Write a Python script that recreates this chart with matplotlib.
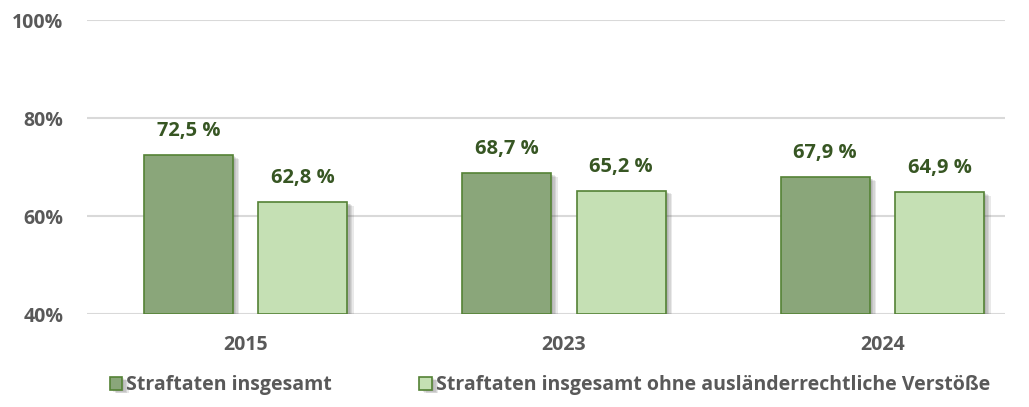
import matplotlib.pyplot as plt
import matplotlib.patheffects as pe
import numpy as np

years = ["2015", "2023", "2024"]
insgesamt = [72.5, 68.7, 67.9]
ohne_auslaender = [62.8, 65.2, 64.9]
series_names = ["Straftaten insgesamt",
                "Straftaten insgesamt ohne ausländerrechtliche Verstöße"]
yticks = [40, 60, 80, 100]

plt.rcParams['font.family'] = ['Open Sans', 'DejaVu Sans']

fig = plt.figure(figsize=(10.29, 4.07), dpi=100)
ax = fig.add_axes([87/1029, 1-314/407, (1005-87)/1029, (314-20)/407])

x = np.arange(len(years))
w = 0.28
off = 0.18
# soft-ish shadow, a few stacked offsets
shadow = [pe.SimplePatchShadow(offset=(o, -o*0.6), shadow_rgbFace='#555555', alpha=0.13)
          for o in (1.5, 2.5, 3.5, 4.5)] + [pe.Normal()]

b1 = ax.bar(x - off, [v - 40 for v in insgesamt], w, bottom=40, color='#8AA67A',
            edgecolor='#548235', linewidth=1.2, zorder=3, label=series_names[0])
b2 = ax.bar(x + off, [v - 40 for v in ohne_auslaender], w, bottom=40, color='#C5E0B4',
            edgecolor='#548235', linewidth=1.2, zorder=3, label=series_names[1])
for b in list(b1) + list(b2):
    b.set_path_effects(shadow)

for xs, vals in ((x - off, insgesamt), (x + off, ohne_auslaender)):
    for xi, v in zip(xs, vals):
        ax.annotate(f"{v:.1f} %".replace(".", ","), (xi, v), xytext=(0, 10),
                    textcoords='offset points', ha='center', va='bottom',
                    fontsize=14.5, fontweight='bold', color='#375623')

ax.set_ylim(40, 100)
ax.set_xlim(-0.498, 2.385)
ax.set_yticks(yticks)
ax.set_yticklabels([f"{t}%" for t in yticks])
ax.set_xticks(x)
ax.set_xticklabels(years)
ax.grid(axis='y', color='#D9D9D9', linewidth=1.5, zorder=0)
ax.set_axisbelow(True)
for s in ax.spines.values():
    s.set_visible(False)
ax.tick_params(axis='both', length=0, labelsize=14, labelcolor='#595959')
ax.tick_params(axis='y', pad=17)
ax.tick_params(axis='x', pad=15)
for lab in ax.get_xticklabels() + ax.get_yticklabels():
    lab.set_fontweight('bold')

leg = fig.legend(handles=[b1, b2], loc='center', bbox_to_anchor=(550/1029, 1-385/407), ncol=2,
                 frameon=False, fontsize=14, handlelength=0.65, handleheight=0.65,
                 handletextpad=0.2, columnspacing=4.5)
for t in leg.get_texts():
    t.set_fontweight('bold')
    t.set_color('#595959')

fig.savefig('out.png', dpi=100)
